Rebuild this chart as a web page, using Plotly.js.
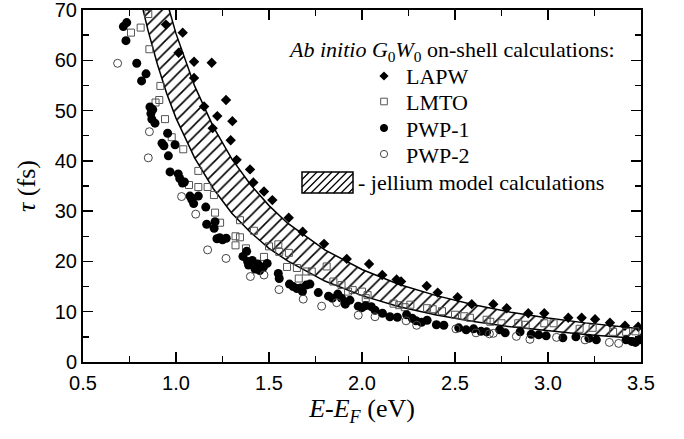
<!DOCTYPE html>
<html><head><meta charset="utf-8">
<script src="https://cdn.plot.ly/plotly-3.0.1.min.js"></script>
<style>html,body{margin:0;padding:0;background:#fff}#chart{width:684px;height:439px}</style>
</head><body><div id="chart"></div>
<script>
// LAPW (filled diamonds)
const lapwE = [0.946,1.014,1.036,1.097,1.097,1.151,1.192,1.197,1.222,1.269,1.294,1.303,1.326,1.398,1.416,1.473,1.518,1.606,1.681,1.796,1.918,2.038,2.109,2.186,2.21,2.348,2.407,2.514,2.59,2.706,2.778,2.894,2.98,3.109,3.181,3.253,3.333,3.414,3.485];
const lapwT = [67.1,61.5,65.5,59.7,56.5,50.8,59.5,46.5,48.9,52.1,44.1,47.9,40.2,38.3,35.7,33.9,32.2,28.7,25.9,23.5,20.5,19.5,17.3,16.4,16.0,15.1,13.8,12.9,11.5,11.5,10.7,9.7,9.7,8.8,8.8,8.5,7.8,7.2,7.0];
// LMTO (open squares)
const lmtoE = [0.758,0.81,0.851,0.857,0.89,0.91,0.916,0.941,0.977,1.039,1.12,1.07,1.12,1.17,1.204,1.21,1.237,1.344,1.32,1.32,1.344,1.376,1.419,1.473,1.50,1.55,1.555,1.607,1.597,1.65,1.70,1.66,1.73,1.81,1.846,1.89,1.925,1.95,2.0,2.03,2.02,2.17,2.2,2.23,2.26,2.35,2.38,2.43,2.50,2.55,2.58,2.67,2.69,2.75,2.84,2.88,2.98,3.03,3.17,3.24,3.35,3.42,3.47];
const lmtoT = [65.5,66.5,69.2,62.2,51.6,52.1,54.9,48.3,44.7,42.3,38.0,35.2,34.8,34.8,33.2,29.7,27.7,28.2,25.0,23.2,24.8,22.6,26.1,20.9,23.0,23.4,21.9,21.7,18.9,18.7,18.0,16.6,18.0,19.0,16.0,15.3,14.0,14.3,14.0,13.3,12.7,11.6,11.3,10.9,11.4,10.7,10.5,10.1,9.4,9.1,8.8,8.4,8.0,7.7,7.7,7.4,7.7,7.7,6.6,6.8,6.0,6.0,6.1];
// PWP-1 (filled circles)
const pwp1E = [0.717,0.735,0.731,0.789,0.839,0.815,0.86,0.865,0.87,0.875,0.887,0.955,0.925,0.935,0.995,0.959,0.968,1.012,1.02,1.035,1.045,1.075,1.085,1.095,1.12,1.16,1.165,1.21,1.205,1.22,1.235,1.25,1.27,1.36,1.38,1.385,1.39,1.40,1.41,1.425,1.44,1.45,1.47,1.49,1.55,1.555,1.61,1.63,1.65,1.67,1.68,1.70,1.72,1.765,1.82,1.84,1.87,1.89,1.91,1.935,1.98,2.0,2.02,2.05,2.07,2.11,2.15,2.19,2.24,2.27,2.29,2.32,2.35,2.40,2.44,2.52,2.56,2.6,2.64,2.67,2.74,2.77,2.85,2.91,2.95,2.99,3.08,3.15,3.22,3.26,3.42,3.45,3.47,3.49];
const pwp1T = [66.7,67.5,63.9,59.4,57.3,55.9,50.7,49.4,48.3,50.2,47.5,45.5,43.5,43.0,43.2,41.0,37.8,37.4,36.5,35.6,35.8,33.0,32.3,31.5,33.0,30.8,27.4,27.9,26.6,24.5,24.7,24.3,24.6,21.0,22.0,20.0,19.3,19.5,20.2,18.5,19.5,18.2,18.9,19.6,17.6,16.6,15.5,15.0,14.6,14.7,14.0,15.3,15.5,13.8,13.1,12.7,13.5,12.7,11.5,12.3,11.1,10.8,11.2,11.0,10.3,9.7,9.0,8.9,9.4,8.7,8.2,7.9,8.3,7.4,7.3,6.8,6.4,6.6,6.1,6.0,6.4,5.8,6.0,5.5,5.4,5.2,4.8,5.0,4.7,4.4,4.4,4.1,3.9,4.4];
// PWP-2 (open circles)
const pwp2E = [0.686,0.851,0.857,1.03,1.106,1.17,1.269,1.40,1.473,1.554,1.684,1.783,1.864,1.98,2.07,2.237,2.294,2.505,2.613,2.685,2.706,2.83,2.903,3.046,3.199,3.33,3.38];
const pwp2T = [59.4,40.6,45.8,32.9,29.4,22.3,20.6,17.0,17.3,14.4,12.5,11.1,11.8,9.3,9.0,8.2,7.3,6.6,5.8,5.6,5.7,5.1,4.5,4.9,4.4,3.9,3.7];
// Jellium model band (upper and lower boundaries)
const bandE = [0.82,0.85,0.9,0.95,1.0,1.1,1.2,1.3,1.4,1.5,1.6,1.8,2.0,2.2,2.4,2.6,2.8,3.0,3.2,3.5];
const bandUpper = [93.9,88.0,79.2,71.8,65.3,54.9,46.8,40.4,35.3,31.1,27.6,22.3,18.4,15.4,13.2,11.4,9.9,8.75,7.78,6.6];
const bandLower = [70.5,65.9,59.2,53.4,48.5,40.6,34.5,29.6,25.8,22.6,20.1,16.1,13.2,11.0,9.36,8.05,7.0,6.15,5.45,4.6];

// tick labels
const yTickVals = [0,10,20,30,40,50,60,70];
const yTickText = ['0','10','20','30','40','50','60','70'];
const xTickVals = [0.5,1.0,1.5,2.0,2.5,3.0,3.5];
const xTickText = ['0.5','1.0','1.5','2.0','2.5','3.0','3.5'];

// legend texts
const legendTitle = '<i>Ab initio G</i><sub>0</sub><i>W</i><sub>0</sub> on-shell calculations:';
const seriesNames = ['LAPW','LMTO','PWP-1','PWP-2'];
const bandName = '- jellium model calculations';

const serif = "Liberation Serif, Times New Roman, serif";
const sans = "Liberation Sans, Arial, sans-serif";

const W = 684, H = 439, M = {l:83, r:43, t:10, b:77};
const pw = W - M.l - M.r, ph = H - M.t - M.b;
const px = v => (v - M.l) / pw;   // pixel -> paper x
const py = v => (M.t + ph - v) / ph; // pixel -> paper y

const traces = [
  {x: bandE, y: bandLower, mode:'lines', line:{color:'black', width:1.5}, showlegend:false, hoverinfo:'skip'},
  {x: bandE, y: bandUpper, mode:'lines', fill:'tonexty', fillcolor:'white',
   fillpattern:{shape:'/', fgcolor:'black', bgcolor:'white', size:8, solidity:0.2},
   line:{color:'black', width:1.5}, name:bandName, showlegend:false},
  {x: lapwE, y: lapwT, mode:'markers', name:seriesNames[0], showlegend:false,
   marker:{symbol:'diamond', size:8, color:'black', line:{width:0}}},
  {x: lmtoE, y: lmtoT, mode:'markers', name:seriesNames[1], showlegend:false,
   marker:{symbol:'square-open', size:7, color:'#555', line:{width:1}}},
  {x: pwp1E, y: pwp1T, mode:'markers', name:seriesNames[2], showlegend:false,
   marker:{symbol:'circle', size:9, color:'black', line:{width:0}}},
  {x: pwp2E, y: pwp2T, mode:'markers', name:seriesNames[3], showlegend:false,
   marker:{symbol:'circle-open', size:8, color:'#444', line:{width:1}}}
];

// custom legend (keys as shapes, labels as annotations)
const keyX = 384, textX = 404;
const rowY = [76, 101.5, 128, 154];
const annotations = [];
const shapes = [];
annotations.push({xref:'paper', yref:'paper', x:px(286), y:py(51), xanchor:'left', yanchor:'middle',
  text:legendTitle, showarrow:false, font:{family:serif, size:22, color:'black'}});
seriesNames.forEach((n,i)=>{
  annotations.push({xref:'paper', yref:'paper', x:px(textX), y:py(rowY[i]+1), xanchor:'left', yanchor:'middle',
    text:n, showarrow:false, font:{family:serif, size:22, color:'black'}});
});
annotations.push({xref:'paper', yref:'paper', x:px(356), y:py(182), xanchor:'left', yanchor:'middle',
  text:bandName, showarrow:false, font:{family:serif, size:22, color:'black'}});

// key: diamond
const d = 4.6, cy0 = rowY[0];
shapes.push({type:'path', xref:'paper', yref:'paper',
  path:`M${px(keyX-d)},${py(cy0)} L${px(keyX)},${py(cy0-d)} L${px(keyX+d)},${py(cy0)} L${px(keyX)},${py(cy0+d)} Z`,
  fillcolor:'black', line:{width:0}});
// key: open square
const s = 3.3;
shapes.push({type:'rect', xref:'paper', yref:'paper', x0:px(keyX-s), x1:px(keyX+s), y0:py(rowY[1]-s), y1:py(rowY[1]+s),
  line:{color:'#555', width:1}, fillcolor:'rgba(0,0,0,0)'});
// key: filled circle
const r = 3.6;
shapes.push({type:'circle', xref:'paper', yref:'paper', x0:px(keyX-r), x1:px(keyX+r), y0:py(rowY[2]-r), y1:py(rowY[2]+r),
  line:{color:'black', width:1}, fillcolor:'black'});
// key: open circle
shapes.push({type:'circle', xref:'paper', yref:'paper', x0:px(keyX-r), x1:px(keyX+r), y0:py(rowY[3]-r), y1:py(rowY[3]+r),
  line:{color:'#444', width:1}, fillcolor:'rgba(0,0,0,0)'});
// key: hatched box
const bx0 = 302, bx1 = 353, by0 = 172, by1 = 193;
let hp = '';
const step = 7.5;
for (let k = bx0 - (by1 - by0); k < bx1; k += step) {
  let xa = k, ya = by1, xb = k + (by1 - by0), yb = by0;
  if (xa < bx0) { ya = by1 - (bx0 - xa); xa = bx0; }
  if (xb > bx1) { yb = by0 + (xb - bx1); xb = bx1; }
  if (xa >= xb) continue;
  hp += `M${px(xa)},${py(ya)} L${px(xb)},${py(yb)} `;
}
shapes.push({type:'path', xref:'paper', yref:'paper', path:hp, line:{color:'black', width:1.3}});
shapes.push({type:'rect', xref:'paper', yref:'paper', x0:px(bx0), x1:px(bx1), y0:py(by1), y1:py(by0),
  line:{color:'black', width:1.5}, fillcolor:'rgba(0,0,0,0)'});

const axisCommon = {
  showline:true, linewidth:2, linecolor:'black', mirror:'ticks',
  ticks:'inside', ticklen:10, tickwidth:1.5, tickcolor:'black',
  showgrid:false, zeroline:false, ticklabeloverflow:'allow',
  tickfont:{family:sans, size:20, color:'black'}
};

const layout = {
  width:W, height:H,
  margin:M,
  paper_bgcolor:'white', plot_bgcolor:'white',
  showlegend:false,
  xaxis: Object.assign({}, axisCommon, {
    range:[0.5,3.5], tickmode:'array', tickvals:xTickVals, ticktext:xTickText, ticklabelstandoff:2,
    minor:{dtick:0.25, tick0:0.5, ticklen:6, ticks:'inside', tickwidth:1.5, tickcolor:'black'},
    title:{text:'<i>E</i>-<i>E</i><sub><i>F</i></sub> (eV)', font:{family:serif, size:26, color:'black'}, standoff:6}
  }),
  yaxis: Object.assign({}, axisCommon, {
    range:[0,70], tickmode:'array', tickvals:yTickVals, ticktext:yTickText,
    minor:{dtick:5, tick0:0, ticklen:6, ticks:'inside', tickwidth:1.5, tickcolor:'black'},
    title:{text:'<i>τ</i> (fs)', font:{family:serif, size:26, color:'black'}, standoff:12}
  }),
  annotations: annotations,
  shapes: shapes
};

Plotly.newPlot('chart', traces, layout, {staticPlot:true, displayModeBar:false});
</script>
</body></html>
